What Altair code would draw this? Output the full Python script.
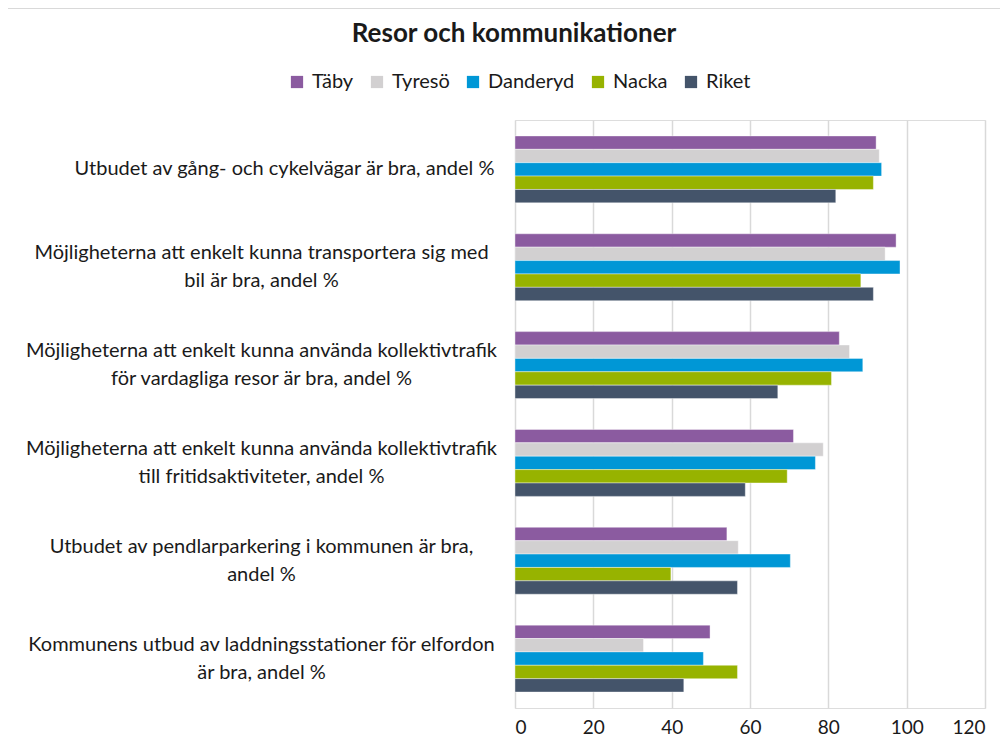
import altair as alt
import pandas as pd

categories = [
    "Utbudet av gång- och cykelvägar är bra, andel %",
    "Möjligheterna att enkelt kunna transportera sig med\nbil är bra, andel %",
    "Möjligheterna att enkelt kunna använda kollektivtrafik\nför vardagliga resor är bra, andel %",
    "Möjligheterna att enkelt kunna använda kollektivtrafik\ntill fritidsaktiviteter, andel %",
    "Utbudet av pendlarparkering i kommunen är bra,\nandel %",
    "Kommunens utbud av laddningsstationer för elfordon\när bra, andel %",
]
series = ["Täby", "Tyresö", "Danderyd", "Nacka", "Riket"]
colors = ["#8B5BA0", "#D2D0D1", "#0097D6", "#97B300", "#44546A"]

taby = [92.2, 97.3, 82.8, 71.1, 54.1, 49.8]
tyreso = [93.0, 94.5, 85.4, 78.7, 57.0, 32.8]
danderyd = [93.6, 98.3, 88.8, 76.7, 70.3, 48.1]
nacka = [91.5, 88.3, 80.8, 69.5, 39.8, 56.8]
riket = [81.9, 91.5, 67.1, 58.8, 56.8, 43.1]
x_ticks = [0, 20, 40, 60, 80, 100, 120]

rows = []
for s, vals in zip(series, [taby, tyreso, danderyd, nacka, riket]):
    for c, v in zip(categories, vals):
        rows.append({"kategori": c, "serie": s, "värde": v})
df = pd.DataFrame(rows)

FONT = "Lato"
MULTI = "indexof(datum.value, '\\n') >= 0"

bars = alt.Chart(df).mark_bar(stroke="white", strokeWidth=0.4).encode(
    y=alt.Y(
        "kategori:N",
        sort=categories,
        title=None,
        scale=alt.Scale(paddingInner=0.316, paddingOuter=0.163),
        axis=alt.Axis(
            labelExpr="split(datum.label, '\\n')",
            labelAlign="center",
            labelBaseline="middle",
            labelOffset={"condition": {"test": MULTI, "value": -14}, "value": 0},
            labelPadding={"condition": {"test": MULTI, "value": 254}, "value": 231},
            labelLimit=600,
            labelFontSize=20,
            labelLineHeight=28,
            labelColor="#1a1a1a",
            labelFont=FONT,
            ticks=False,
            domain=False,
            grid=False,
        ),
    ),
    yOffset=alt.YOffset("serie:N", sort=series, scale=alt.Scale(paddingInner=0, paddingOuter=0)),
    x=alt.X(
        "värde:Q",
        title=None,
        scale=alt.Scale(domain=[0, 120], nice=False),
        axis=alt.Axis(
            values=x_ticks,
            labelFontSize=19,
            labelColor="#1a1a1a",
            labelFont=FONT,
            labelPadding=10,
            ticks=False,
            domain=False,
            grid=True,
            gridColor="#D9D9D9",
            gridWidth=1.5,
        ),
    ),
    color=alt.Color(
        "serie:N",
        sort=series,
        scale=alt.Scale(domain=series, range=colors),
        legend=alt.Legend(
            title=None,
            orient="none",
            direction="horizontal",
            legendX=-228,
            legendY=-48,
            symbolType="square",
            symbolSize=150,
            symbolStrokeWidth=0,
            labelFontSize=20,
            labelFont=FONT,
            labelColor="#1a1a1a",
            columnPadding=13,
            labelOffset=5,
        ),
    ),
)

border = alt.Chart(pd.DataFrame({"a": [0]})).mark_rule(color="#D9D9D9", strokeWidth=2, clip=False)
left_border = border.encode(x=alt.value(-508), y=alt.value(-112), y2=alt.value(640))
top_border = border.encode(x=alt.value(-508), x2=alt.value(500), y=alt.value(-112))

chart = alt.layer(bars, left_border, top_border).properties(
    width=470,
    height=588,
    padding={"left": 507, "top": 112, "right": 15, "bottom": 35},
    autosize=alt.AutoSizeParams(type="none"),
    title=alt.TitleParams(
        "Resor och kommunikationer",
        fontSize=26,
        fontWeight="bold",
        font=FONT,
        color="#1a1a1a",
        frame="group",
        anchor="middle",
        dx=-236,
        offset=-40,
    ),
).configure_view(stroke=None).configure(background="white")

chart.save("out.html", embed_options={"renderer": "svg", "actions": False})
